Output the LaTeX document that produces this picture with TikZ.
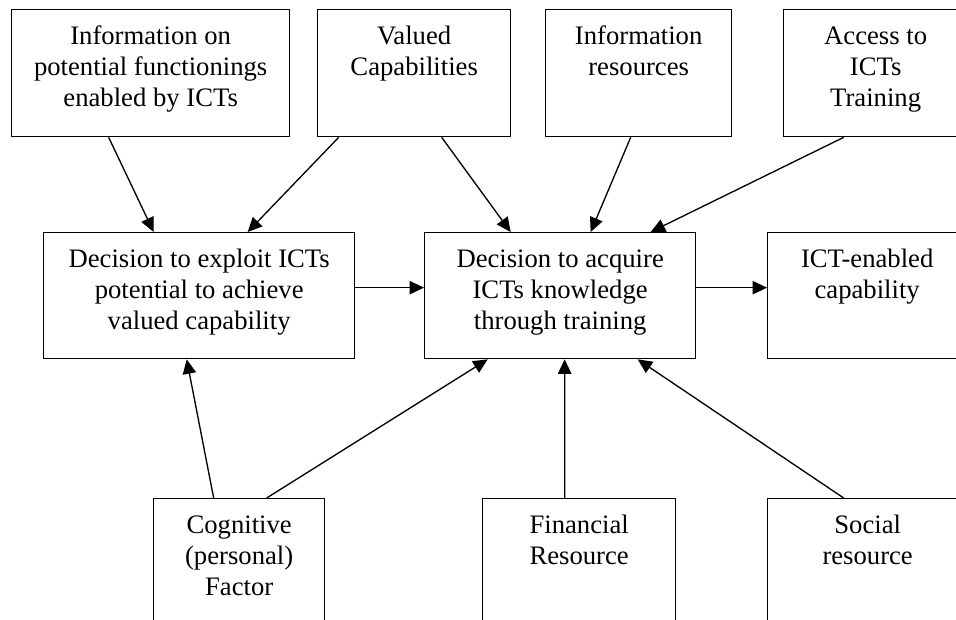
\documentclass[tikz,border=0pt]{standalone}
\usepackage{fontspec}
\setmainfont{Liberation Serif}
\usepackage{tikz}
\usetikzlibrary{arrows.meta}

\newlength{\px}
\setlength{\px}{0.45pt}
\newcommand{\boxtext}[3]{\parbox[t][#2\px][t]{#1\px}{\centering\rule{0pt}{15.6pt}#3}}

\begin{document}
\begin{tikzpicture}[->,>={Triangle[length=6.5pt,width=6pt]},line width=0.6pt,x=0.45pt,y=-0.45pt]
      \tikzstyle{every node}=[draw,rectangle,anchor=north west,inner sep=0pt,font=\fontsize{12pt}{13.9pt}\selectfont]

      \useasboundingbox (0,0) rectangle (956,619);
      \clip (0,0) rectangle (956,619);

      \node (infofunc) at (11,9) {\boxtext{278}{127}{Information on\\ potential functionings\\ enabled by ICTs}};
      \node (valued) at (317,9) {\boxtext{193}{127}{Valued\\ Capabilities}};
      \node (infores) at (545,9) {\boxtext{186}{127}{Information\\ resources}};
      \node (access) at (783,9) {\boxtext{184}{127}{Access to\\ ICTs\\ Training}};

      \node (exploit) at (43,232) {\boxtext{311}{126}{Decision to exploit ICTs\\ potential to achieve\\ valued capability}};
      \node (acquire) at (424,232) {\boxtext{271}{126}{Decision to acquire\\ ICTs knowledge\\ through training}};
      \node (enabled) at (767,232) {\boxtext{199}{126}{ICT-enabled\\ capability}};

      \node (cognitive) at (153,498) {\boxtext{171}{127}{Cognitive\\ (personal)\\ Factor}};
      \node (financial) at (482,498) {\boxtext{193}{127}{Financial\\ Resource}};
      \node (social) at (767,498) {\boxtext{200}{127}{Social\\ resource}};

      \draw ([xshift=-42\px]infofunc.south) -- ([xshift=-45.5\px]exploit.north);
      \draw ([xshift=-75.5\px]valued.south) -- ([xshift=48.5\px]exploit.north);

      \draw ([xshift=27.5\px]valued.south) -- ([xshift=-49.5\px]acquire.north);
      \draw ([xshift=-8\px]infores.south) -- ([xshift=30.5\px]acquire.north);
      \draw ([xshift=-32\px]access.south) -- ([xshift=90.5\px]acquire.north);

      \draw ([yshift=8\px]exploit.east) -- ([yshift=8\px]acquire.west);
      \draw ([yshift=8\px]acquire.east) -- ([yshift=8\px]enabled.west);

      \draw ([xshift=-25.5\px]cognitive.north) -- ([xshift=-12.5\px]exploit.south);
      \draw ([xshift=27.5\px]cognitive.north) -- ([xshift=-72.5\px]acquire.south);
      \draw ([xshift=-14.5\px]financial.north) -- ([xshift=4.5\px]acquire.south);
      \draw ([xshift=-24\px]social.north) -- ([xshift=77.5\px]acquire.south);

    \end{tikzpicture}
\end{document}
